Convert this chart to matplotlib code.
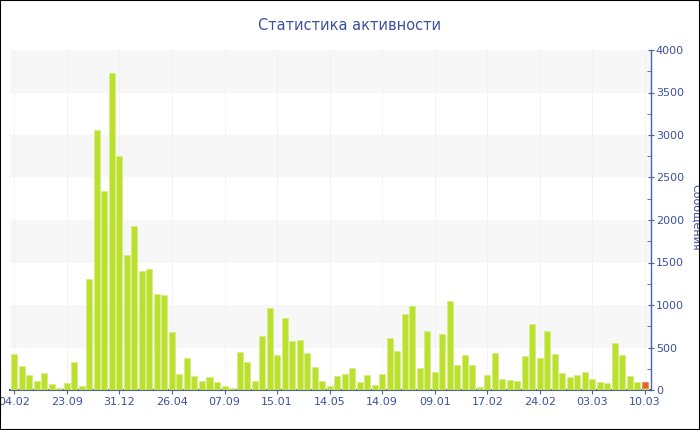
import matplotlib
matplotlib.use("Agg")
import matplotlib.pyplot as plt
from matplotlib.patches import Rectangle
from matplotlib.ticker import MultipleLocator

title = "Статистика активности"
ylabel = "Сообщения"

values = [425, 283, 177, 110, 205, 67, 27, 83, 335, 43,
          1306, 3057, 2337, 3727, 2750, 1586, 1924, 1405, 1428, 1133,
          1118, 681, 187, 381, 165, 106, 157, 94, 49, 25,
          449, 330, 102, 630, 960, 413, 842, 575, 587, 433,
          268, 110, 43, 161, 185, 260, 94, 173, 63, 189,
          610, 453, 893, 988, 264, 697, 216, 657, 1043, 299,
          409, 291, 31, 177, 437, 126, 114, 102, 397, 779,
          381, 693, 421, 200, 157, 173, 208, 130, 91, 86,
          555, 409, 161, 98, 27]
extra = [0] * 84 + [71]

tick_labels = ["04.02", "23.09", "31.12", "26.04", "07.09", "15.01", "14.05",
               "14.09", "09.01", "17.02", "24.02", "03.03", "10.03"]

text_color = "#3d50a0"
axis_color = "#4e60a8"
green = "#bce02e"
orange = "#e0632a"

fig = plt.figure(figsize=(7, 4.3), dpi=100)
ax = fig.add_axes([10 / 700, 40 / 430, 641 / 700, 340 / 430])

x = list(range(len(values)))
ax.bar(x, values, width=0.8, color=green, edgecolor="#d6ee86", linewidth=0.6, zorder=3)
ex_x = [i for i, e in zip(x, extra) if e > 0]
ex_v = [e for e in extra if e > 0]
ex_b = [values[i] for i in ex_x]
ax.bar(ex_x, ex_v, width=0.8, bottom=ex_b, color=orange, edgecolor="#ec8a5a",
       linewidth=0.6, zorder=3)

ax.set_xlim(-0.57, len(values) - 1 + 0.8)
ax.set_ylim(0, 4000)

for lo in (500, 1500, 2500, 3500):
    ax.axhspan(lo, lo + 500, color="#f7f7f7", zorder=0, lw=0)

tick_pos = list(range(0, len(values), 7))
ax.set_xticks(tick_pos)
ax.set_xticklabels(tick_labels)
for p in tick_pos:
    ax.axvline(p, color="#f1f1f1", lw=0.6, zorder=1)

ax.yaxis.tick_right()
ax.yaxis.set_major_locator(MultipleLocator(500))
ax.yaxis.set_minor_locator(MultipleLocator(250))
ax.tick_params(axis="y", which="major", direction="inout", length=5, color=axis_color,
               labelcolor=text_color, labelsize=8, pad=1)
ax.tick_params(axis="y", which="minor", direction="in", length=3, color=axis_color)
ax.tick_params(axis="x", which="major", direction="out", length=3, color=axis_color,
               labelcolor=text_color, labelsize=8, pad=2)

for s in ("left", "top"):
    ax.spines[s].set_visible(False)
ax.spines["bottom"].set_color(axis_color)
ax.spines["bottom"].set_linewidth(1.5)
ax.spines["right"].set_color(axis_color)
ax.spines["right"].set_linewidth(1.0)
ax.set_facecolor("white")

fig.text(350 / 700, 1 - 25 / 430, title, ha="center", va="center",
         color=text_color, fontsize=10.5)
fig.text(696 / 700, 1 - 217 / 430, ylabel, ha="center", va="center",
         rotation=270, color=text_color, fontsize=8)

fig.patches.append(Rectangle((0, 0), 1, 1, transform=fig.transFigure, fill=False,
                             edgecolor="black", linewidth=1.5, zorder=10))

fig.savefig("out.png", dpi=100)
